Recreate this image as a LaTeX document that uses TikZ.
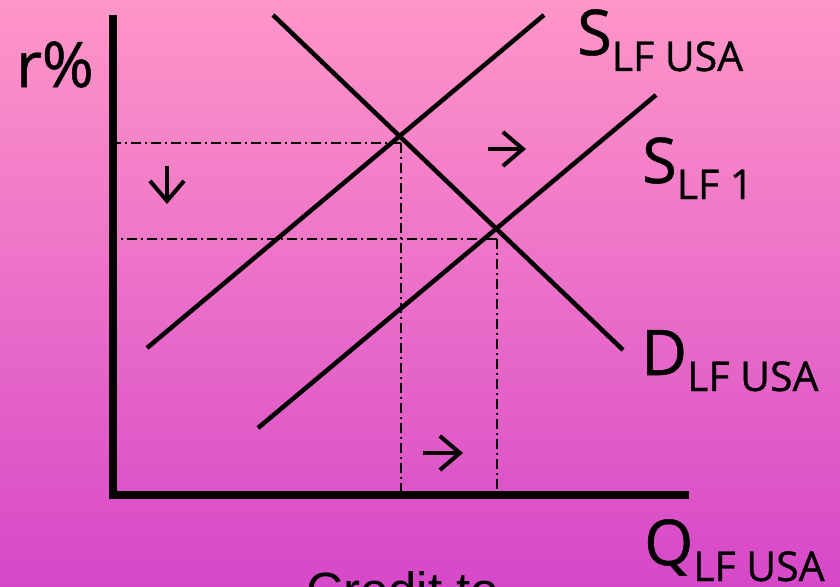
\documentclass[tikz,border=0pt]{standalone}
\usepackage{fontspec}
\setmainfont{Open Sans}[FakeBold=0.8]
\newfontfamily\creditfont{Liberation Sans}
\usetikzlibrary{arrows.meta}

\definecolor{bgtop}{RGB}{255,150,200}
\definecolor{bgmid}{RGB}{245,136,202}
\definecolor{bgbot}{RGB}{214,72,200}

\newcommand{\curvelbl}[2]{{\fontsize{63}{63}\selectfont #1}\raisebox{-16pt}{\fontsize{41}{41}\selectfont #2}}

\begin{document}
\begin{tikzpicture}[
    x=1pt, y=-1pt,
    axis/.style={line width=8pt, line join=miter},
    curve/.style={line width=4.5pt},
    guide/.style={line width=2.4pt, dash pattern=on 10pt off 4pt on 2pt off 4pt},
    shiftarr/.style={line width=4pt, -{Straight Barb[length=20pt, width=34pt, line width=4pt]}},
    lbl/.style={inner sep=0pt, anchor=base west, text=black}
]
\fill[top color=bgtop, middle color=bgmid, bottom color=bgbot] (0,0) rectangle (840,586);
\useasboundingbox (0,0) rectangle (840,586);

\coordinate (ytop) at (112.5,15);
\coordinate (origin) at (112.5,495);
\coordinate (xend) at (689,495);

\coordinate (dA) at (273,15);
\coordinate (dB) at (623,350);
\coordinate (sA) at (147,348);
\coordinate (sB) at (544,15);
\coordinate (tA) at (258,428);
\coordinate (tB) at (656,95);

\coordinate (eq1) at (401,143);
\coordinate (eq2) at (497,239);

\coordinate (ra1) at (488,149);
\coordinate (ra2) at (526,149);
\coordinate (da1) at (167,166);
\coordinate (da2) at (167,204);
\coordinate (qa1) at (423,453);
\coordinate (qa2) at (463,453);

\node[lbl, font=\fontsize{63}{63}\selectfont] (rate) at (16,87) {r\%};
\node[lbl] (slfusa) at (577,55) {\curvelbl{S}{LF USA}};
\node[lbl] (slf1) at (642,183) {\curvelbl{S}{LF 1}};
\node[lbl] (dlfusa) at (641,375) {\curvelbl{D}{LF USA}};
\node[lbl] (qlfusa) at (644,565) {\curvelbl{Q}{LF USA}};
\node[lbl, font=\creditfont\fontsize{51}{51}\selectfont] (credit) at (306,608) {Credit to};

\draw[guide] (eq1) -- (eq1 -| origin);
\draw[guide] (eq1) -- (eq1 |- origin);
\draw[guide] (eq2) -- (eq2 -| origin);
\draw[guide] (eq2) -- (eq2 |- origin);

\draw[curve] (dA) -- (dB);
\draw[curve] (sA) -- (sB);
\draw[curve] (tA) -- (tB);

\draw[axis] (ytop) -- (origin) -- (xend);

\draw[shiftarr] (ra1) -- (ra2);
\draw[shiftarr] (da1) -- (da2);
\draw[shiftarr] (qa1) -- (qa2);
\end{tikzpicture}
\end{document}
